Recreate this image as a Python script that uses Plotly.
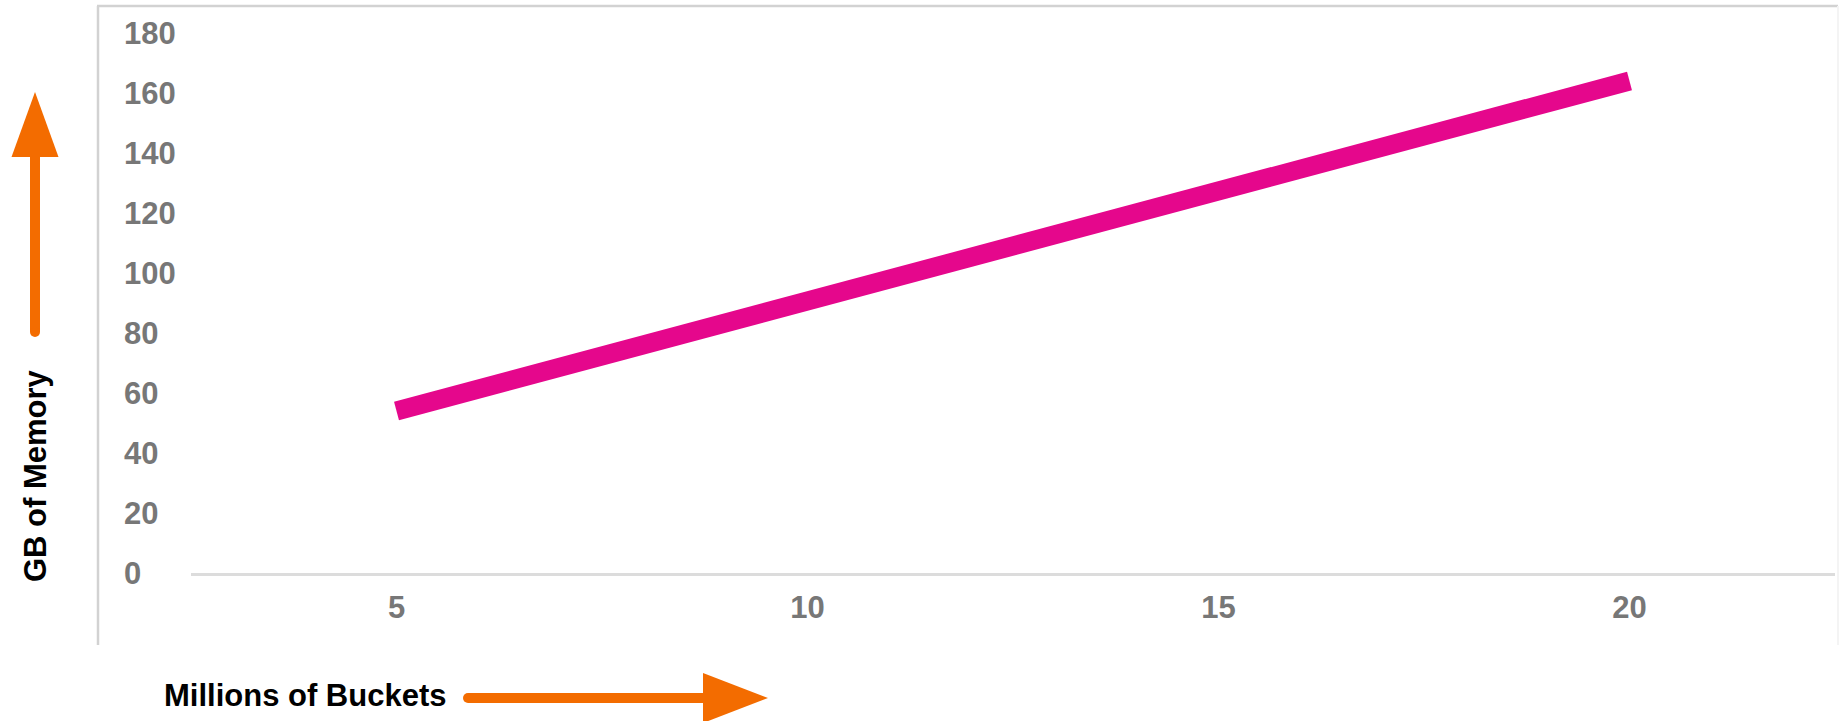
import plotly.graph_objects as go

# ---- data ----
buckets_millions = [5, 10, 15, 20]
memory_gb = [54, 91, 128, 164]
y_tick_vals = [0, 20, 40, 60, 80, 100, 120, 140, 160, 180]
x_tick_vals = [5, 10, 15, 20]
x_title = "Millions of Buckets"
y_title = "GB of Memory"

# ---- layout geometry (pixels) ----
W, H = 1847, 721
L, R, T, B = 98, 12, 33, 148
PW, PH = W - L - R, H - T - B


def px(x):
    return (x - L) / PW


def py(y):
    return (H - B - y) / PH


ORANGE = "#F36C00"
PINK = "#E5078C"
BORDER = "#d2d2d2"
TICK_FONT = dict(family="Liberation Sans, Arial", size=31, color="#777777", weight="bold")

fig = go.Figure()
fig.add_trace(go.Scatter(
    x=buckets_millions, y=memory_gb, mode="lines",
    line=dict(color=PINK, width=19), hoverinfo="skip", showlegend=False,
))

shapes = []
# chart frame
shapes.append(dict(type="line", xref="paper", yref="paper", x0=px(98), x1=px(98),
                   y0=py(6), y1=py(645), line=dict(color=BORDER, width=2.5)))
shapes.append(dict(type="line", xref="paper", yref="paper", x0=px(97), x1=px(1838),
                   y0=py(6), y1=py(6), line=dict(color=BORDER, width=2.5)))
shapes.append(dict(type="line", xref="paper", yref="paper", x0=px(1838), x1=px(1838),
                   y0=py(6), y1=py(645), line=dict(color="#f4f4f4", width=2)))

# up arrow
shapes.append(dict(type="line", xref="paper", yref="paper", x0=px(35), x1=px(35),
                   y0=py(332), y1=py(150), line=dict(color=ORANGE, width=10)))
shapes.append(dict(type="circle", xref="paper", yref="paper", x0=px(30), x1=px(40),
                   y0=py(337), y1=py(327), fillcolor=ORANGE, line=dict(width=0)))
shapes.append(dict(type="path", xref="paper", yref="paper",
                   path=f"M {px(35)} {py(92)} L {px(11.5)} {py(157)} L {px(58.5)} {py(157)} Z",
                   fillcolor=ORANGE, line=dict(width=0)))
# right arrow
shapes.append(dict(type="line", xref="paper", yref="paper", x0=px(468), x1=px(710),
                   y0=py(698), y1=py(698), line=dict(color=ORANGE, width=10)))
shapes.append(dict(type="circle", xref="paper", yref="paper", x0=px(463), x1=px(473),
                   y0=py(703), y1=py(693), fillcolor=ORANGE, line=dict(width=0)))
shapes.append(dict(type="path", xref="paper", yref="paper",
                   path=f"M {px(703)} {py(673)} L {px(768)} {py(698)} L {px(703)} {py(723)} Z",
                   fillcolor=ORANGE, line=dict(width=0)))

annotations = [
    dict(text=f"<b>{x_title}</b>", xref="paper", yref="paper", x=px(162), y=py(695),
         xanchor="left", yanchor="middle", showarrow=False,
         font=dict(family="Liberation Sans, Arial", size=31, color="#000")),
    dict(text=f"<b>{y_title}</b>", xref="paper", yref="paper", x=px(35), y=py(476),
         xanchor="center", yanchor="middle", showarrow=False, textangle=-90,
         font=dict(family="Liberation Sans, Arial", size=31, color="#000")),
]

fig.update_layout(
    width=W, height=H, margin=dict(l=L, r=R, t=T, b=B, pad=0),
    paper_bgcolor="white", plot_bgcolor="white",
    shapes=shapes, annotations=annotations, showlegend=False,
    xaxis=dict(
        domain=[px(191), 1], range=[2.5, 22.5], tickvals=x_tick_vals,
        showgrid=False, zeroline=False, showline=True, linecolor="#dcdcdc", linewidth=2.5,
        ticks="", ticklabelstandoff=5, tickfont=TICK_FONT, fixedrange=True,
    ),
    yaxis=dict(
        anchor="free", position=0, range=[0, 180], tickvals=y_tick_vals,
        showgrid=False, zeroline=False, showline=False, ticks="",
        ticklabelposition="inside", ticklabeloverflow="allow", ticklabelstandoff=22,
        tickfont=TICK_FONT, fixedrange=True,
    ),
)

fig.write_html("out.html")
